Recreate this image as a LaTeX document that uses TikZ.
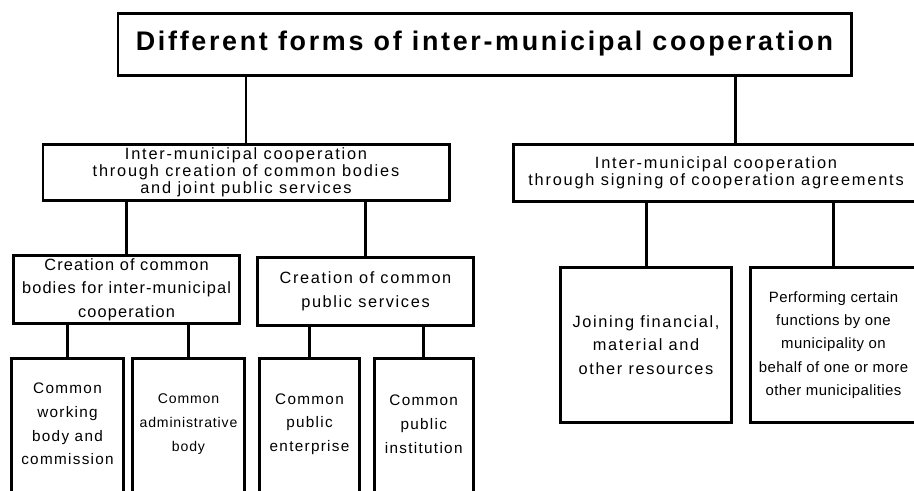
\documentclass[tikz,border=0pt]{standalone}
\usepackage{fontspec}
\setmainfont{Liberation Sans}

\tikzstyle{caixa} = [rectangle, draw=black, line width=1.7pt, align=center, inner sep=0pt]
\tikzstyle{caixaOberta} = [rectangle, align=center, inner sep=0pt]
\tikzstyle{linia} = [line width=1.7pt]
\tikzstyle{lletraTitol} = [font=\fontsize{15.3}{18}\selectfont\bfseries\addfontfeature{LetterSpace=10}]
\tikzstyle{lletraDos} = [font=\fontsize{9.3}{8}\selectfont\addfontfeature{LetterSpace=11}]
\tikzstyle{lletraTres} = [font=\fontsize{9.3}{13.4}\selectfont\addfontfeature{LetterSpace=10}]
\tikzstyle{lletraTresEstreta} = [font=\fontsize{9.3}{13.4}\selectfont\addfontfeature{LetterSpace=7}]
\tikzstyle{lletraQuatre} = [font=\fontsize{8.7}{13.5}\selectfont\addfontfeature{LetterSpace=8.5}]
\tikzstyle{lletraPetita} = [font=\fontsize{8}{13.4}\selectfont\addfontfeature{LetterSpace=6}]
\tikzstyle{lletraFuncions} = [font=\fontsize{8.5}{13.3}\selectfont\addfontfeature{LetterSpace=3}]

\begin{document}
\begin{tikzpicture}[node distance=2cm]

	\useasboundingbox (0,0) rectangle (18.28,-9.8);
	\clip (0,0) rectangle (18.28,-9.8);

	% Definicio de nodes

	\node (formes) [caixa, lletraTitol, minimum width=14.66cm, minimum height=1.24cm] at (9.69,-0.88) {Different forms of inter-municipal cooperation};

	\node (cooperacioOrgans) [caixa, lletraDos, below of=formes, xshift=-4.77cm, yshift=-0.575cm, minimum width=8.12cm, minimum height=1.12cm] {Inter-municipal cooperation\\through creation of common bodies\\and joint public services};
	\node (cooperacioAcords) [caixa, lletraDos, below of=formes, xshift=4.63cm, yshift=-0.575cm, minimum width=8.09cm, minimum height=1.13cm] {Inter-municipal cooperation\\through signing of cooperation agreements};

	\node (organsComuns) [caixa, lletraTresEstreta, below of=cooperacioOrgans, xshift=-2.39cm, yshift=-0.34cm, minimum width=4.53cm, minimum height=1.36cm] {Creation of common\\bodies for inter-municipal\\cooperation};
	\node (serveisComuns) [caixa, lletraTres, below of=cooperacioOrgans, xshift=2.39cm, yshift=-0.375cm, minimum width=4.32cm, minimum height=1.37cm] {Creation of common\\public services};

	%caixes de baix (obertes, el marc es dibuixa a part)
	\node (cosTreball) [caixaOberta, lletraQuatre, below of=organsComuns, xshift=-1.18cm, yshift=-0.685cm, minimum width=2.21cm, minimum height=2.61cm] {Common\\working\\body and\\commission};
	\node (cosAdministratiu) [caixaOberta, lletraPetita, below of=organsComuns, xshift=1.24cm, yshift=-0.685cm, minimum width=2.22cm, minimum height=2.61cm] {Common\\administrative\\body};
	\node (empresaPublica) [caixaOberta, lletraQuatre, below of=serveisComuns, xshift=-1.12cm, yshift=-0.65cm, minimum width=1.99cm, minimum height=2.61cm] {Common\\public\\enterprise};
	\node (institucioPublica) [caixaOberta, lletraQuatre, below of=serveisComuns, xshift=1.165cm, yshift=-0.65cm, minimum width=1.96cm, minimum height=2.61cm] {Common\\public\\institution};

	\node (recursos) [caixa, lletraTres, below of=cooperacioAcords, xshift=-1.40cm, yshift=-1.445cm, minimum width=3.41cm, minimum height=3.11cm] {Joining financial,\\material and\\other resources};
	\node (funcions) [caixa, lletraFuncions, below of=cooperacioAcords, xshift=2.35cm, yshift=-1.445cm, minimum width=3.31cm, minimum height=3.11cm] {Performing certain\\functions by one\\municipality on\\behalf of one or more\\other municipalities};

	\coordinate (entradaAcords) at ([xshift=0.39cm]cooperacioAcords.north);

	% Marcs de les caixes obertes
	\draw [linia] ([yshift=-0.4cm]cosTreball.south west) -- (cosTreball.north west) -- (cosTreball.north east) -- ([yshift=-0.4cm]cosTreball.south east);
	\draw [linia] ([yshift=-0.4cm]cosAdministratiu.south west) -- (cosAdministratiu.north west) -- (cosAdministratiu.north east) -- ([yshift=-0.4cm]cosAdministratiu.south east);
	\draw [linia] ([yshift=-0.4cm]empresaPublica.south west) -- (empresaPublica.north west) -- (empresaPublica.north east) -- ([yshift=-0.4cm]empresaPublica.south east);
	\draw [linia] ([yshift=-0.4cm]institucioPublica.south west) -- (institucioPublica.north west) -- (institucioPublica.north east) -- ([yshift=-0.4cm]institucioPublica.south east);

	% Linies entre els nodes
	\draw [linia] (cooperacioOrgans.north) -- (cooperacioOrgans.north |- formes.south);
	\draw [linia] (entradaAcords) -- (entradaAcords |- formes.south);

	\draw [linia] (organsComuns.north) -- (organsComuns.north |- cooperacioOrgans.south);
	\draw [linia] (serveisComuns.north) -- (serveisComuns.north |- cooperacioOrgans.south);

	\draw [linia] (cosTreball.north) -- (cosTreball.north |- organsComuns.south);
	\draw [linia] (cosAdministratiu.north) -- (cosAdministratiu.north |- organsComuns.south);
	\draw [linia] (empresaPublica.north) -- (empresaPublica.north |- serveisComuns.south);
	\draw [linia] (institucioPublica.north) -- (institucioPublica.north |- serveisComuns.south);

	\draw [linia] (recursos.north) -- (recursos.north |- cooperacioAcords.south);
	\draw [linia] (funcions.north) -- (funcions.north |- cooperacioAcords.south);

\end{tikzpicture}
\end{document}
